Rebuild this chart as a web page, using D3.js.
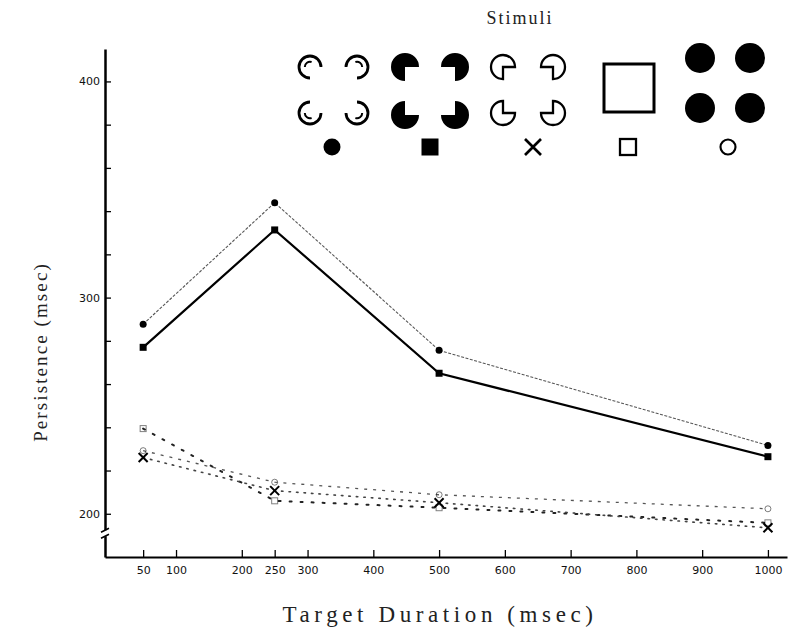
<!DOCTYPE html>
<html>
<head>
<meta charset="utf-8">
<script src="https://cdn.jsdelivr.net/npm/d3@7"></script>
<style>
  html, body { margin: 0; padding: 0; background: #fff; }
  svg { display: block; }
</style>
</head>
<body>
<div id="chart"></div>
<script>
// ---------- data ----------
const durations = [50, 250, 500, 1000];
const arcInducers   = [287.7, 343.9, 275.6, 231.6]; // filled circle
const solidPacmen   = [277.0, 331.3, 265.0, 226.4]; // filled square
const outlinePacmen = [226.0, 210.7, 205.1, 193.5]; // X
const realSquare    = [239.4, 206.0, 202.8, 195.8]; // open square
const fullDisks     = [229.2, 214.6, 208.8, 202.3]; // open circle
const xTickValues = [50, 100, 200, 250, 300, 400, 500, 600, 700, 800, 900, 1000];
const yTickValues = [200, 220, 240, 260, 280, 300, 320, 340, 360, 380, 400];
const yTickLabels = [200, 300, 400];

// ---------- layout ----------
const W = 788, H = 636;
const svg = d3.select("#chart").append("svg").attr("width", W).attr("height", H);

const x = d3.scaleLinear().domain([-8, 1029]).range([105, 787]);
const y = d3.scaleLinear().domain([180, 415]).range([557, 49]);

const tickFont = "'DejaVu Sans', sans-serif";
const serif = "'Liberation Serif', 'Times New Roman', serif";

// y axis
const yAxis = d3.axisLeft(y).tickValues(yTickValues)
  .tickSizeInner(-6).tickSizeOuter(0).tickPadding(5)
  .tickFormat(d => yTickLabels.includes(d) ? d : "");
const gy = svg.append("g").attr("transform", "translate(105,0)").call(yAxis);
gy.select(".domain").attr("stroke-width", 2.5);
gy.selectAll(".tick line").attr("stroke-width", 1.3);
gy.selectAll(".tick text").attr("font-family", tickFont).attr("font-size", 11).attr("fill", "#111");

// x axis
const xAxis = d3.axisBottom(x).tickValues(xTickValues)
  .tickSizeInner(-7).tickSizeOuter(0).tickPadding(9)
  .tickFormat(d => d);
const gx = svg.append("g").attr("transform", "translate(0,557)").call(xAxis);
gx.select(".domain").attr("stroke-width", 2);
gx.selectAll(".tick line").attr("stroke-width", 1.3);
gx.selectAll(".tick text").attr("font-family", tickFont).attr("font-size", 11).attr("fill", "#111");

// axis break marker on y axis
const by = y(191);
svg.append("rect").attr("x", 101).attr("y", by - 3).attr("width", 8).attr("height", 6).attr("fill", "#fff");
svg.append("path")
  .attr("d", `M101,${by - 1} L109,${by - 5} M101,${by + 5} L109,${by + 1}`)
  .attr("stroke", "#000").attr("stroke-width", 1.5).attr("fill", "none");

// axis titles
svg.append("text").attr("transform", "translate(47,352) rotate(-90)")
  .attr("text-anchor", "middle").attr("font-family", serif).attr("font-size", 19)
  .attr("letter-spacing", 2.1).attr("fill", "#222").text("Persistence (msec)");
svg.append("text").attr("x", 440).attr("y", 622)
  .attr("text-anchor", "middle").attr("font-family", serif).attr("font-size", 23)
  .attr("letter-spacing", 4.6).attr("fill", "#222").text("Target Duration (msec)");

// ---------- series ----------
const line = d3.line().x(d => x(d[0])).y(d => y(d[1]));
const zip = vals => durations.map((t, i) => [t, vals[i]]);

const series = [
  { vals: realSquare,    stroke: "#222", width: 2,   dash: "2,9",   cap: "round", marker: "osquare" },
  { vals: fullDisks,     stroke: "#555", width: 1.3, dash: "3,6",   cap: "butt",  marker: "ocircle" },
  { vals: outlinePacmen, stroke: "#444", width: 1.6, dash: "1.5,6", cap: "round", marker: "x" },
  { vals: arcInducers,   stroke: "#555", width: 1.1, dash: "3,1.5", cap: "butt",  marker: "fcircle" },
  { vals: solidPacmen,   stroke: "#000", width: 2.2, dash: null,    cap: "butt",  marker: "fsquare" }
];

series.forEach(s => {
  svg.append("path").datum(zip(s.vals)).attr("d", line)
    .attr("fill", "none").attr("stroke", s.stroke).attr("stroke-width", s.width)
    .attr("stroke-dasharray", s.dash).attr("stroke-linecap", s.cap);
});

function drawMarker(g, type, cx, cy, size) {
  if (type === "fcircle") {
    g.append("circle").attr("cx", cx).attr("cy", cy).attr("r", size / 2).attr("fill", "#000");
  } else if (type === "fsquare") {
    g.append("rect").attr("x", cx - size / 2).attr("y", cy - size / 2)
      .attr("width", size).attr("height", size).attr("fill", "#000");
  } else if (type === "x") {
    const h = size / 2;
    g.append("path").attr("d", `M${cx - h},${cy - h}L${cx + h},${cy + h}M${cx - h},${cy + h}L${cx + h},${cy - h}`)
      .attr("stroke", "#000").attr("stroke-width", Math.max(2, size / 6)).attr("fill", "none");
  } else if (type === "osquare") {
    g.append("rect").attr("x", cx - size / 2).attr("y", cy - size / 2)
      .attr("width", size).attr("height", size).attr("fill", "none")
      .attr("stroke", "#000").attr("stroke-width", Math.max(1, size / 7));
  } else if (type === "ocircle") {
    g.append("circle").attr("cx", cx).attr("cy", cy).attr("r", size / 2).attr("fill", "none")
      .attr("stroke", "#000").attr("stroke-width", Math.max(1, size / 7));
  }
}

const dataMarkerSize = { fcircle: 7, fsquare: 7, x: 9, osquare: 6, ocircle: 6 };
const gm = svg.append("g");
series.forEach(s => {
  zip(s.vals).forEach(d => {
    const g = gm.append("g").attr("opacity", (s.marker === "osquare" || s.marker === "ocircle") ? 0.5 : 1);
    drawMarker(g, s.marker, x(d[0]), y(d[1]), dataMarkerSize[s.marker]);
  });
});

// ---------- stimuli legend ----------
const leg = svg.append("g");
leg.append("text").attr("x", 520).attr("y", 24).attr("text-anchor", "middle")
  .attr("font-family", serif).attr("font-size", 18).attr("letter-spacing", 2)
  .attr("fill", "#222").text("Stimuli");

const P = Math.PI;
// angular ranges (d3.arc convention: 0 at 12 o'clock, clockwise) for TL, TR, BL, BR inducers
const quadRanges = [[P, 2.5 * P], [-0.5 * P, P], [0.5 * P, 2 * P], [0, 1.5 * P]];
const innerRanges = [[1.5 * P, 2.1 * P], [-0.1 * P, 0.5 * P], [0.9 * P, 1.5 * P], [0.5 * P, 1.1 * P]];

function quad(cx0, cy0, dx, dy) {
  return [[cx0, cy0], [cx0 + dx, cy0], [cx0, cy0 + dy], [cx0 + dx, cy0 + dy]];
}

// group 1: thin-line arcs
quad(310, 67, 47, 46).forEach((c, i) => {
  const [a0, a1] = quadRanges[i];
  leg.append("path").attr("transform", `translate(${c[0]},${c[1]})`)
    .attr("d", d3.arc()({ innerRadius: 9.6, outerRadius: 12.4, startAngle: a0, endAngle: a1 }))
    .attr("fill", "#000");
  const [b0, b1] = innerRanges[i];
  leg.append("path").attr("transform", `translate(${c[0]},${c[1]})`)
    .attr("d", d3.arc()({ innerRadius: 4.2, outerRadius: 6.2, startAngle: b0, endAngle: b1 }))
    .attr("fill", "#000");
});

// group 2: solid pacmen
quad(405, 67, 50, 48).forEach((c, i) => {
  const [a0, a1] = quadRanges[i];
  leg.append("path").attr("transform", `translate(${c[0]},${c[1]})`)
    .attr("d", d3.arc()({ innerRadius: 0, outerRadius: 14, startAngle: a0, endAngle: a1 }))
    .attr("fill", "#000");
});

// group 3: outlined pacmen
quad(503, 67, 50, 46).forEach((c, i) => {
  const [a0, a1] = quadRanges[i];
  leg.append("path").attr("transform", `translate(${c[0]},${c[1]})`)
    .attr("d", d3.arc()({ innerRadius: 0, outerRadius: 12, startAngle: a0, endAngle: a1 }))
    .attr("fill", "none").attr("stroke", "#000").attr("stroke-width", 2.3);
});

// group 4: real square
leg.append("rect").attr("x", 604).attr("y", 64).attr("width", 50).attr("height", 48)
  .attr("fill", "none").attr("stroke", "#000").attr("stroke-width", 3);

// group 5: full disks
quad(700, 58, 50, 50).forEach(c => {
  leg.append("circle").attr("cx", c[0]).attr("cy", c[1]).attr("r", 15).attr("fill", "#000");
});

// legend marker row
const legendMarkers = [["fcircle", 332, 17], ["fsquare", 430, 17], ["x", 533, 16], ["osquare", 628, 16], ["ocircle", 728, 15]];
legendMarkers.forEach(m => drawMarker(leg, m[0], m[1], 147, m[2]));
</script>
</body>
</html>
